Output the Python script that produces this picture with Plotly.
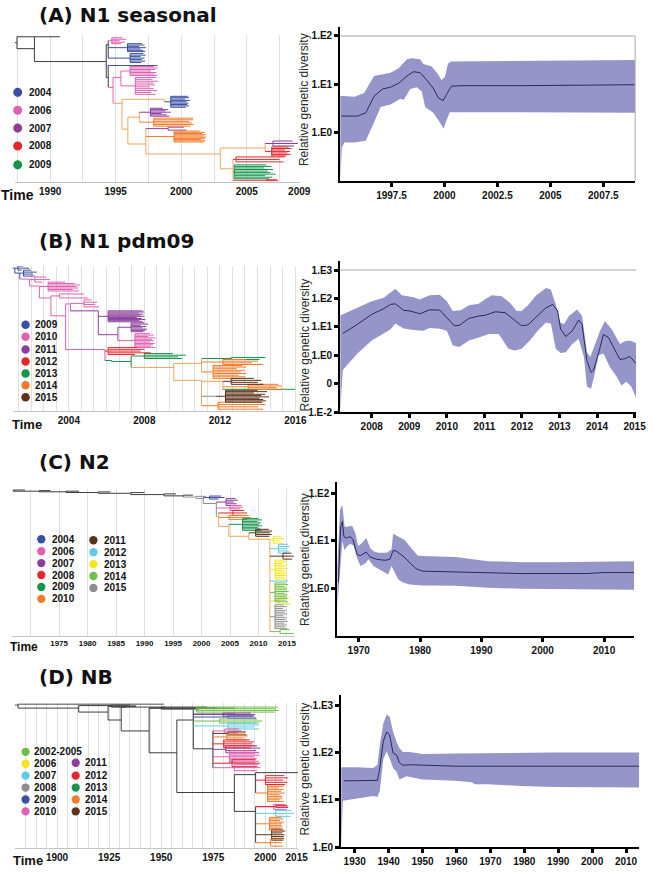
import numpy as np
import plotly.graph_objects as go

W, H = 654, 873
def fx(p): return p / W
def fy(p): return 1 - p / H

COL = dict(blue="#3a4fa3", pink="#e160b0", purple="#8a3f9d", red="#e5262d", green="#17944b",
           orange="#f27b2a", brown="#5b321a", cyan="#5fcde2", yellow="#f3e61b", lgreen="#71be45",
           gray="#8e8e8e", dark="#3d3d3d", lorange="#f2a55e")
FILL = "#9595ca"
MED = "#2a2a5c"

# ---------------- skyline data (log10 relative genetic diversity) ----------------
a_up_t = [1995.08, 1995.75, 1996.21, 1996.68, 1997.46, 1997.84, 1998.23, 1998.46, 1998.85, 1999.01, 1999.40, 1999.71, 1999.86, 2000.02, 2000.17, 2000.33, 2009.0]
a_up = [0.76, 0.74, 0.82, 1.17, 1.24, 1.33, 1.52, 1.54, 1.52, 1.42, 1.37, 1.20, 1.09, 1.15, 1.43, 1.47, 1.50]
a_lo_t = [1995.08, 1995.16, 1995.28, 1995.75, 1996.29, 1996.68, 1996.99, 1997.46, 1997.92, 1998.08, 1998.39, 1998.70, 1998.93, 1999.09, 1999.47, 1999.78, 1999.97, 2000.06, 2000.25, 2003.67, 2009.0]
a_lo = [-0.99, -0.31, -0.21, -0.21, -0.17, 0.21, 0.53, 0.58, 0.70, 0.68, 0.90, 0.94, 0.85, 0.53, 0.41, 0.21, 0.08, 0.21, 0.42, 0.42, 0.41]
a_md_t = [1995.13, 1995.90, 1996.29, 1996.68, 1997.07, 1997.46, 1997.84, 1998.23, 1998.54, 1998.85, 1999.16, 1999.47, 1999.71, 1999.94, 2000.10, 2000.33, 2000.87, 2003.67, 2009.0]
a_md = [0.34, 0.34, 0.41, 0.75, 0.90, 0.94, 1.02, 1.17, 1.26, 1.24, 1.09, 0.92, 0.72, 0.66, 0.79, 0.96, 0.97, 0.97, 0.99]

b_up_t = [2007.16, 2007.23, 2007.62, 2008.0, 2008.32, 2008.50, 2008.63, 2008.80, 2009.11, 2009.28, 2009.54, 2009.81, 2010.0, 2010.16, 2010.37, 2010.59, 2010.85, 2011.03, 2011.20, 2011.46, 2011.68, 2011.86, 2011.99, 2012.16, 2012.38, 2012.64, 2012.77, 2012.90, 2013.02, 2013.12, 2013.25, 2013.47, 2013.60, 2013.73, 2013.82, 2013.95, 2014.08, 2014.21, 2014.39, 2014.61, 2014.74, 2014.87, 2015.04]
b_up = [1.40, 1.44, 1.67, 1.90, 2.02, 2.21, 2.34, 2.11, 2.04, 1.96, 2.11, 2.13, 1.90, 1.56, 1.58, 1.76, 1.81, 1.98, 2.11, 2.08, 1.85, 1.56, 1.56, 1.76, 2.11, 2.37, 2.31, 1.79, 1.15, 1.09, 1.38, 1.61, 1.38, 0.11, -0.06, 0.40, 0.86, 1.21, 0.92, 0.40, 0.49, 0.52, 0.43]
b_lo_t = [2007.16, 2007.23, 2007.62, 2008.0, 2008.32, 2008.50, 2008.63, 2008.85, 2009.11, 2009.37, 2009.54, 2009.81, 2010.0, 2010.16, 2010.33, 2010.59, 2010.85, 2011.12, 2011.38, 2011.64, 2011.81, 2011.99, 2012.21, 2012.42, 2012.64, 2012.77, 2012.90, 2013.03, 2013.17, 2013.34, 2013.51, 2013.65, 2013.73, 2013.84, 2013.91, 2014.04, 2014.17, 2014.34, 2014.52, 2014.65, 2014.78, 2014.91, 2015.04]
b_lo = [-2.0, -0.52, 0.06, 0.52, 0.77, 0.92, 1.12, 0.94, 0.89, 0.86, 0.96, 0.93, 0.86, 0.34, 0.29, 0.52, 0.63, 0.75, 0.75, 0.23, 0.17, 0.23, 0.52, 0.86, 1.15, 1.12, 0.23, 0.08, 0.11, 0.40, 0.58, -0.06, -1.10, -1.18, -0.81, 0.00, 0.06, -0.41, -0.75, -1.06, -0.93, -1.10, -1.50]
b_md_t = [2007.23, 2007.62, 2008.0, 2008.32, 2008.50, 2008.63, 2008.85, 2009.02, 2009.28, 2009.54, 2009.81, 2010.0, 2010.20, 2010.33, 2010.59, 2010.85, 2011.03, 2011.29, 2011.55, 2011.77, 2011.99, 2012.16, 2012.42, 2012.64, 2012.82, 2012.95, 2013.03, 2013.17, 2013.34, 2013.51, 2013.60, 2013.73, 2013.84, 2013.91, 2014.04, 2014.17, 2014.30, 2014.43, 2014.61, 2014.74, 2014.87, 2015.04]
b_md = [0.77, 1.09, 1.44, 1.64, 1.79, 1.81, 1.58, 1.56, 1.46, 1.60, 1.59, 1.33, 1.04, 1.05, 1.30, 1.38, 1.41, 1.53, 1.50, 1.27, 1.04, 1.07, 1.38, 1.67, 1.79, 1.56, 0.92, 0.66, 0.86, 1.24, 1.09, -0.18, -0.60, -0.52, 0.08, 0.73, 0.63, 0.29, -0.15, -0.12, -0.04, -0.29]

c_up_t = [1966.52, 1966.95, 1967.33, 1967.70, 1968.13, 1968.93, 1969.47, 1969.89, 1970.53, 1971.23, 1971.87, 1972.41, 1973.21, 1974.55, 1975.35, 1975.61, 1976.42, 1977.49, 1978.56, 1979.63, 1980.43, 1985.78, 1991.12, 1996.47, 2001.82, 2007.17, 2009.84, 2014.92]
c_up = [0.47, 1.65, 1.76, 1.30, 1.30, 1.32, 1.16, 0.89, 0.95, 1.06, 0.85, 0.78, 0.75, 0.75, 0.82, 1.15, 1.09, 1.02, 0.85, 0.69, 0.68, 0.66, 0.57, 0.55, 0.55, 0.56, 0.57, 0.57]
c_lo_t = [1966.52, 1966.95, 1967.33, 1967.70, 1968.13, 1968.66, 1969.20, 1969.73, 1970.27, 1971.07, 1971.60, 1972.41, 1973.21, 1974.28, 1974.81, 1975.35, 1975.88, 1976.42, 1977.22, 1978.29, 1980.43, 1985.78, 1991.12, 1996.47, 2001.82, 2007.17, 2014.92]
c_lo = [-0.40, 0.33, 0.99, 0.80, 0.89, 0.94, 0.89, 0.64, 0.47, 0.52, 0.61, 0.47, 0.41, 0.33, 0.29, 0.47, 0.33, 0.19, 0.12, 0.08, 0.06, 0.05, 0.01, -0.01, -0.02, -0.02, -0.03]
c_md_t = [1966.68, 1967.06, 1967.33, 1967.59, 1968.02, 1968.66, 1969.09, 1969.73, 1970.27, 1971.23, 1971.87, 1972.94, 1974.28, 1975.08, 1975.61, 1976.15, 1977.22, 1978.29, 1979.36, 1980.43, 1985.78, 1991.12, 1996.47, 2007.17, 2009.84, 2014.92]
c_md = [0.12, 1.30, 1.41, 1.09, 1.06, 1.09, 1.02, 0.71, 0.69, 0.76, 0.66, 0.61, 0.59, 0.61, 0.80, 0.78, 0.68, 0.54, 0.41, 0.36, 0.34, 0.33, 0.31, 0.31, 0.33, 0.33]

d_up_t = [1926.0, 1926.8, 1930.7, 1935.5, 1936.7, 1937.4, 1938.4, 1939.4, 1940.3, 1941.3, 1942.3, 1943.2, 1944.2, 1946.2, 1950.0, 1959.7, 1969.4, 1988.7, 2013.85]
d_up = [1.69, 1.69, 1.69, 1.67, 1.74, 2.16, 2.60, 2.80, 2.76, 2.44, 2.23, 2.09, 2.01, 2.01, 1.97, 1.98, 1.99, 2.00, 2.00]
d_lo_t = [1926.0, 1926.5, 1930.7, 1935.5, 1936.7, 1937.4, 1938.4, 1939.4, 1940.3, 1941.3, 1942.3, 1943.2, 1944.2, 1945.2, 1947.1, 1950.0, 1959.7, 1964.5, 1965.5, 1969.4, 1979.0, 1988.7, 2013.85]
d_lo = [0.0, 0.98, 1.03, 1.08, 1.06, 1.19, 1.85, 2.02, 1.88, 1.67, 1.60, 1.43, 1.46, 1.50, 1.48, 1.43, 1.40, 1.37, 1.33, 1.33, 1.29, 1.27, 1.26]
d_md_t = [1926.8, 1935.5, 1936.7, 1937.4, 1938.4, 1939.4, 1940.3, 1941.3, 1942.3, 1943.2, 1944.2, 1946.2, 1950.0, 1959.7, 2013.85]
d_md = [1.40, 1.41, 1.41, 1.67, 2.23, 2.43, 2.37, 1.99, 1.95, 1.78, 1.73, 1.74, 1.73, 1.71, 1.71]

# ---------------- tree data: (name, parent, time, row, colour) ----------------
# combs: (name, parent, base time, first row, last row, tip times, colour)
treeA_nodes = [
    ("r", None, 1987.30, 43, "dark"), ("n1", "r", 1987.47, 43, "dark"),
    ("o1", "n1", 1988.80, 37, "dark"), ("n2", "n1", 1988.80, 49, "dark"),
    ("o2", "n2", 1990.75, 37, "dark"), ("n3", "n2", 1994.28, 62, "dark"),
    ("n4", "n3", 1994.43, 45, "dark"), ("n5", "n3", 1994.43, 78, "dark"),
    ("bt", "n5", 1998.18, 66, "blue"), ("n6", "n5", 1994.80, 88, "pink"),
    ("pk", "n6", 1995.40, 78, "pink"), ("q1", "n6", 1995.48, 104, "lorange"),
    ("q2", "q1", 1998.70, 100, "lorange"), ("q3", "q1", 1995.93, 130, "lorange"),
    ("q4", "q3", 1996.80, 118, "lorange"), ("q5", "q3", 1997.30, 145, "lorange"),
    ("q6", "q5", 2002.98, 155, "lorange"), ("q7", "q6", 2006.40, 149, "lorange"),
    ("q8", "q6", 2003.95, 170, "lorange"),
]
treeA_combs = [
    ("ca1", "n4", 1994.70, 38, 44, [1995.5, 1995.8, 1995.3, 1995.7, 1995.4], "pink"),
    ("cb1", "n4", 1995.90, 44, 52, [1997.0, 1997.2, 1996.8, 1997.3, 1996.9, 1997.1, 1997.25], "blue"),
    ("cb2", "n4", 1996.10, 54, 63, [1997.1, 1997.3, 1996.9, 1997.2, 1997.0, 1997.25, 1996.95], "blue"),
    ("cp1", "pk", 1996.10, 67, 76, [1997.9, 1998.2, 1998.0, 1997.7, 1998.1, 1997.95, 1998.15], "pink"),
    ("cp2", "pk", 1996.50, 78, 95, [1998.1, 1997.8, 1998.2, 1997.9, 1998.0, 1997.6, 1997.9, 1998.15, 1997.7, 1998.05], "pink"),
    ("cb3", "q2", 1999.20, 97, 108, [2000.5, 2000.6, 2000.3, 2000.65, 2000.4, 2000.55, 2000.45, 2000.6, 2000.35], "blue"),
    ("co1", "q4", 1997.65, 109, 117, [1998.6, 1999.0, 1998.8, 1999.2, 1998.5, 1998.9, 1999.1], "purple"),
    ("co2", "q4", 1997.90, 119, 127, [2000.9, 2000.9, 2000.6, 2000.8, 2000.95, 2000.7], "orange"),
    ("co4", "q5", 1999.00, 128, 131, [2000.2, 2000.4], "purple"),
    ("co3", "q5", 1999.45, 132, 143, [2001.4, 2001.8, 2001.6, 2001.9, 2001.7, 2001.9, 2001.8, 2001.5, 2001.85, 2001.75], "orange"),
    ("cr1", "q7", 2007.00, 142, 147, [2008.5, 2008.9, 2008.6], "purple"),
    ("cr2", "q7", 2006.90, 148, 157, [2008.2, 2008.4, 2007.9, 2008.3, 2008.1, 2008.35, 2008.0], "red"),
    ("cr3", "q8", 2004.18, 158, 163, [2007.9, 2007.5, 2007.8], "red"),
    ("cg1", "q8", 2004.05, 166, 180, [2006.5, 2006.9, 2006.3, 2007.0, 2006.6, 2006.8, 2007.2, 2006.4, 2006.95, 2006.7], "green"),
    ("cr4", "q8", 2006.50, 181, 182, [2007.3, 2007.4], "red"),
]

treeB_nodes = [
    ("r", None, 2001.0, 70, "dark"), ("b0", "r", 2001.14, 70, "blue"),
    ("b1", "b0", 2001.40, 75, "blue"), ("p1", "b1", 2001.92, 81, "pink"),
    ("p2", "p1", 2002.44, 88, "pink"), ("p3", "p2", 2003.05, 100, "pink"),
    ("p4", "p3", 2003.83, 118, "pink"), ("p5", "p4", 2004.09, 106, "pink"),
    ("u1", "p5", 2005.56, 113, "purple"), ("u3", "u1", 2006.60, 137, "purple"),
    ("r1", "p4", 2005.91, 152, "pink"), ("g1", "r1", 2006.26, 163, "green"),
    ("gn", "g1", 2007.30, 164, "green"), ("o1", "gn", 2009.56, 170, "lorange"),
    ("o2", "o1", 2011.03, 166, "lorange"), ("o3", "o1", 2011.03, 183, "lorange"),
    ("o4", "o3", 2012.16, 184, "lorange"), ("o5", "o3", 2011.80, 199, "gray"),
    ("gt", "o4", 2016.0, 192, "green"),
]
treeB_combs = [
    ("cb0", "b0", 2001.30, 68, 72, [2001.6, 2001.9, 2001.5], "blue"),
    ("cb1", "b1", 2001.60, 72, 78, [2002.0, 2002.3, 2002.1, 2002.2], "blue"),
    ("cp1", "p1", 2002.20, 79, 84, [2002.8, 2003.0, 2002.6], "pink"),
    ("cp2", "p2", 2002.90, 84, 93, [2003.8, 2004.3, 2004.6, 2004.4, 2004.5, 2004.2, 2004.55], "pink"),
    ("cp3", "p3", 2003.50, 96, 100, [2004.8, 2005.0], "pink"),
    ("cp5", "p5", 2004.80, 102, 109, [2005.2, 2005.5, 2005.4, 2005.6], "pink"),
    ("cu2", "u1", 2006.08, 113, 124, [2007.9, 2008.0, 2007.7, 2007.95, 2007.8, 2008.0, 2007.6, 2007.85, 2008.05, 2007.75, 2007.9], "purple"),
    ("cu3a", "u3", 2007.30, 125, 134, [2008.0, 2008.2, 2007.8, 2008.1, 2007.9, 2008.15, 2008.05, 2007.95], "purple"),
    ("cu3b", "u3", 2007.50, 136, 150, [2008.3, 2008.5, 2008.2, 2008.6, 2008.4, 2008.5, 2008.3, 2008.55, 2008.45, 2008.35, 2008.6], "pink"),
    ("cr1", "r1", 2006.08, 150, 157, [2007.6, 2008.0, 2007.8, 2008.34, 2007.5], "red"),
    ("cg2", "gn", 2008.00, 156, 161, [2009.5, 2010.2, 2009.8, 2010.0], "green"),
    ("cg3", "o2", 2012.60, 160, 162, [2014.4, 2014.1], "green"),
    ("co2a", "o2", 2012.16, 162, 167, [2013.4, 2014.0, 2013.7, 2014.3], "orange"),
    ("co2b", "o2", 2011.64, 168, 181, [2013.2, 2013.4, 2012.9, 2013.3, 2013.1, 2013.4, 2013.0, 2013.35, 2013.15], "orange"),
    ("cbr1", "o4", 2012.60, 181, 187, [2013.8, 2014.2, 2014.0, 2014.3], "brown"),
    ("co4", "o4", 2013.50, 187, 192, [2015.1, 2015.3, 2015.0, 2015.4], "orange"),
    ("cbr2", "o5", 2012.30, 193, 205, [2014.0, 2014.5, 2013.8, 2014.4, 2014.2, 2014.6, 2014.1, 2014.3, 2014.45, 2014.25], "brown"),
    ("co6", "o3", 2011.90, 205, 212, [2014.2, 2014.4, 2014.0, 2014.3], "orange"),
]

treeC_nodes = [
    ("k0", None, 1966.95, 64.0, "dark"), ("k1", "k0", 1971.5, 64.6, "dark"),
    ("k2", "k1", 1976.2, 65.2, "dark"), ("k3", "k2", 1981.9, 65.9, "dark"),
    ("k4", "k3", 1987.6, 66.7, "dark"), ("k5", "k4", 1993.4, 68.0, "dark"),
    ("k6", "k5", 1996.8, 69.3, "dark"), ("k7", "k6", 1999.1, 70.5, "gray"),
    ("s0", "k0", 1969.0, 63.4, "dark"), ("s1", "k1", 1973.5, 64.0, "dark"),
    ("s2", "k2", 1978.5, 64.6, "dark"), ("s3", "k3", 1984.0, 65.3, "dark"),
    ("s4", "k4", 1990.0, 66.0, "dark"), ("s5", "k5", 1995.5, 67.3, "dark"),
    ("s6", "k6", 1998.5, 68.6, "dark"), ("s7", "k7", 2000.8, 69.8, "gray"),
    ("c1", "k7", 2000.3, 72.0, "gray"), ("c2", "c1", 2002.6, 77, "gray"),
    ("c3", "c2", 2003.0, 90, "lorange"), ("c4", "c3", 2004.8, 100, "lorange"),
    ("c5", "c4", 2008.3, 110, "lorange"), ("c6", "c5", 2012.0, 113, "lorange"),
    ("cyt", "c6", 2015.2, 155, "cyan"),
]
treeC_combs = [
    ("cb", "c1", 2001.4, 69.5, 72.5, [2003.4, 2004.0, 2003.0], "blue"),
    ("cpu", "c2", 2004.3, 72, 79, [2006.0, 2006.4, 2005.7, 2006.2, 2005.8], "purple"),
    ("cpk", "c2", 2005.0, 79, 84, [2007.0, 2007.3, 2006.8, 2007.2], "pink"),
    ("cr", "c3", 2005.5, 84, 89, [2007.5, 2008.0, 2007.2], "red"),
    ("cor", "c3", 2004.8, 89, 93, [2008.3, 2008.6, 2008.0], "orange"),
    ("cg", "c4", 2007.2, 92, 104, [2010.0, 2010.6, 2009.8, 2010.4, 2010.1, 2010.6, 2009.9, 2010.3, 2010.5], "green"),
    ("cbr", "c5", 2009.5, 103, 110, [2011.8, 2012.4, 2012.0, 2012.3, 2011.9], "brown"),
    ("cy", "c6", 2012.6, 110, 117, [2014.0, 2014.5, 2013.8, 2014.3], "yellow"),
    ("ccy", "c6", 2013.5, 118, 127, [2015.2, 2015.5, 2015.0, 2015.4, 2015.1], "cyan"),
    ("cbr2", "c6", 2014.3, 127, 133, [2015.8, 2016.2, 2015.9], "brown"),
    ("cyel", "c6", 2012.9, 134, 153, [2014.5, 2015.0, 2014.3, 2014.9, 2014.6, 2015.1, 2014.4, 2014.8, 2014.7, 2014.95, 2014.55, 2014.85], "yellow"),
    ("cgr", "c6", 2012.9, 157, 176, [2014.8, 2015.2, 2014.6, 2015.0, 2014.9, 2015.3, 2014.7, 2015.1, 2014.85, 2015.05, 2014.75, 2015.15], "lgreen"),
    ("cyel2", "c6", 2013.5, 172, 178, [2015.4, 2015.7], "yellow"),
    ("cgy", "c6", 2012.9, 179, 203, [2014.5, 2014.9, 2014.3, 2014.8, 2014.6, 2015.0, 2014.4, 2014.9, 2014.7, 2015.1, 2014.55, 2014.85, 2014.65, 2014.95], "gray"),
    ("cgr2", "c6", 2013.8, 204, 208, [2015.5, 2016.2], "lgreen"),
]

treeD_nodes = [
    ("d0", None, 1879.7, 60, "dark"), ("d1", "d0", 1881.3, 60, "dark"),
    ("t1", "d1", 1951.3, 59, "dark"), ("d2", "d1", 1910.4, 63, "dark"),
    ("t2", "d2", 1926.0, 60.5, "dark"), ("d3", "d2", 1924.5, 67, "dark"),
    ("t3", "d3", 1938.0, 61, "dark"), ("d4", "d3", 1930.8, 75, "dark"),
    ("t4", "d4", 1952.0, 62, "dark"), ("d5", "d4", 1944.2, 86, "dark"),
    ("t5", "d5", 1985.0, 63, "dark"), ("d6", "d5", 1957.5, 108, "dark"),
    ("d7", "d6", 1965.4, 75, "dark"), ("d8", "d6", 1985.1, 148, "dark"),
    ("t7", "d7", 1985.5, 69, "dark"), ("d9", "d7", 1974.8, 104, "dark"),
    ("d10", "d8", 1995.3, 130, "dark"), ("t10", "d10", 2015.7, 128, "dark"),
    ("d11", "d8", 1995.3, 167, "dark"),
]
treeD_combs = [
    ("cd1", "d3", 1926.0, 60, 62, [1935.0, 1938.0, 1933.0], "dark"),
    ("cd2", "d5", 1950.0, 62, 64, [1972.0, 1976.5, 1968.0], "dark"),
    ("lg", "d7", 1967.0, 62, 67, [2006.0, 2005.0, 2006.3, 2004.5], "lgreen"),
    ("pu", "d7", 1979.6, 68, 71, [1993.0, 1995.0, 1994.0], "purple"),
    ("bl", "d7", 1982.0, 71, 73, [1994.5, 1995.5], "blue"),
    ("gr", "d7", 1978.0, 74, 78, [1996.0, 1998.4, 1997.0], "lgreen"),
    ("cy", "d7", 1982.0, 78, 84, [1995.3, 1996.8, 1994.5, 1997.0], "cyan"),
    ("pk", "d9", 1980.5, 84, 88, [1987.4, 1988.5, 1986.9], "pink"),
    ("br", "d9", 1982.0, 87, 90, [1990.6, 1991.0], "brown"),
    ("or", "d9", 1981.5, 89, 95, [1990.0, 1991.5, 1989.5, 1991.0], "orange"),
    ("rd", "d9", 1980.0, 95, 103, [1992.5, 1994.5, 1993.7, 1995.0, 1993.0], "red"),
    ("pr", "d9", 1981.0, 101, 108, [1996.0, 1997.5, 1995.5, 1997.0], "purple"),
    ("pk2", "d9", 1982.7, 106, 118, [1994.0, 1996.5, 1995.0, 1997.2, 1994.5, 1996.0, 1995.5, 1996.8, 1995.2], "pink"),
    ("rd2", "d9", 1984.0, 115, 122, [1995.0, 1997.5, 1996.0], "red"),
    ("pk3", "d9", 1985.0, 120, 126, [1996.5, 1997.5, 1996.0], "pink"),
    ("rd3", "d10", 2000.0, 131, 140, [2009.0, 2011.0, 2008.5, 2010.5, 2009.5], "red"),
    ("or2", "d10", 2001.0, 140, 157, [2007.0, 2009.0, 2006.5, 2008.7, 2007.5, 2009.3, 2006.8, 2008.0, 2008.4, 2007.2, 2008.9], "orange"),
    ("mg", "d11", 2004.0, 160, 165, [2009.5, 2011.0, 2010.0], "pink"),
    ("rd4", "d11", 2005.0, 161, 163, [2010.5, 2010.9], "red"),
    ("cy2", "d11", 2005.0, 166, 172, [2012.5, 2013.7, 2012.0], "cyan"),
    ("or3", "d11", 2002.0, 173, 186, [2007.5, 2008.5, 2007.0, 2009.0, 2008.0, 2007.8, 2008.3, 2007.3, 2008.7], "orange"),
    ("br2", "d11", 2003.0, 185, 196, [2008.5, 2009.5, 2008.2, 2009.2, 2008.8, 2009.0, 2008.6], "brown"),
    ("or4", "d11", 2002.5, 195, 202, [2008.6, 2007.9, 2008.4], "orange"),
]

# tick labels
a_tree_ticks = [1990, 1995, 2000, 2005, 2009]
b_tree_ticks = [2004, 2008, 2012, 2016]
c_tree_ticks = [1975, 1980, 1985, 1990, 1995, 2000, 2005, 2010, 2015]
d_tree_ticks = [1900, 1925, 1950, 1975, 2000, 2015]
a_sky_xticks = [1997.5, 2000, 2002.5, 2005, 2007.5]
b_sky_xticks = [2008, 2009, 2010, 2011, 2012, 2013, 2014, 2015]
c_sky_xticks = [1970, 1980, 1990, 2000, 2010]
d_sky_xticks = [1930, 1940, 1950, 1960, 1970, 1980, 1990, 2000, 2010]
a_sky_yticks = [0, 1, 2]; a_sky_ylab = ["1.E0", "1.E1", "1.E2"]
b_sky_yticks = [-2, -1, 0, 1, 2, 3]; b_sky_ylab = ["1.E-2", "0", "1.E0", "1.E1", "1.E2", "1.E3"]
c_sky_yticks = [0, 1, 2]; c_sky_ylab = ["1.E0", "1.E1", "1.E2"]
d_sky_yticks = [0, 1, 2, 3]; d_sky_ylab = ["1.E0", "1.E1", "1.E2", "1.E3"]

legA = [("2004", "blue"), ("2006", "pink"), ("2007", "purple"), ("2008", "red"), ("2009", "green")]
legB = [("2009", "blue"), ("2010", "pink"), ("2011", "purple"), ("2012", "red"), ("2013", "green"), ("2014", "orange"), ("2015", "brown")]
legC1 = [("2004", "blue"), ("2006", "pink"), ("2007", "purple"), ("2008", "red"), ("2009", "green"), ("2010", "orange")]
legC2 = [("2011", "brown"), ("2012", "cyan"), ("2013", "yellow"), ("2014", "lgreen"), ("2015", "gray")]
legD1 = [("2002-2005", "lgreen"), ("2006", "yellow"), ("2007", "cyan"), ("2008", "gray"), ("2009", "blue"), ("2010", "pink")]
legD2 = [("2011", "purple"), ("2012", "red"), ("2013", "green"), ("2014", "orange"), ("2015", "brown")]


def tree_traces(nodes, combs, xa, ya):
    info = {n[0]: n for n in nodes}
    comb_nodes = [(c[0], c[1], c[2], (c[3] + c[4]) / 2, c[6]) for c in combs]
    for c in comb_nodes:
        info[c[0]] = c
    kids = {}
    for n in list(nodes) + comb_nodes:
        if n[1] is not None:
            kids.setdefault(n[1], []).append(n[3])
    segs = {}
    def add(col, x0, y0, x1, y1):
        xs, ys = segs.setdefault(col, ([], []))
        xs += [x0, x1, None]; ys += [y0, y1, None]
    for name, par, t, row, col in nodes:
        if par is not None:
            add(col, info[par][2], row, t, row)
        if name in kids:
            rows = kids[name] + [row]
            add(col, t, min(rows), t, max(rows))
    for name, par, bt, r0, r1, tips, col in combs:
        mid = (r0 + r1) / 2
        add(col, info[par][2], mid, bt, mid)
        add(col, bt, r0, bt, r1)
        for r, tt in zip(np.linspace(r0, r1, len(tips)), tips):
            add(col, bt, r, tt, r)
    out = []
    for col, (xs, ys) in segs.items():
        out.append(go.Scatter(x=xs, y=ys, mode="lines", line=dict(color=COL[col], width=1),
                              hoverinfo="skip", showlegend=False, xaxis=xa, yaxis=ya))
    return out


def sky_traces(ut, u, lt, l, mt, m, xa, ya):
    return [
        go.Scatter(x=list(ut) + list(lt)[::-1], y=list(u) + list(l)[::-1], fill="toself",
                   fillcolor=FILL, line=dict(width=0, color=FILL), mode="lines",
                   hoverinfo="skip", showlegend=False, xaxis=xa, yaxis=ya),
        go.Scatter(x=mt, y=m, mode="lines", line=dict(color=MED, width=1),
                   hoverinfo="skip", showlegend=False, xaxis=xa, yaxis=ya),
    ]


fig = go.Figure()
for tr in tree_traces(treeA_nodes, treeA_combs, "x", "y"): fig.add_trace(tr)
for tr in sky_traces(a_up_t, a_up, a_lo_t, a_lo, a_md_t, a_md, "x2", "y2"): fig.add_trace(tr)
for tr in tree_traces(treeB_nodes, treeB_combs, "x3", "y3"): fig.add_trace(tr)
for tr in sky_traces(b_up_t, b_up, b_lo_t, b_lo, b_md_t, b_md, "x4", "y4"): fig.add_trace(tr)
for tr in tree_traces(treeC_nodes, treeC_combs, "x5", "y5"): fig.add_trace(tr)
for tr in sky_traces(c_up_t, c_up, c_lo_t, c_lo, c_md_t, c_md, "x6", "y6"): fig.add_trace(tr)
for tr in tree_traces(treeD_nodes, treeD_combs, "x7", "y7"): fig.add_trace(tr)
for tr in sky_traces(d_up_t, d_up, d_lo_t, d_lo, d_md_t, d_md, "x8", "y8"): fig.add_trace(tr)

FONT = "Liberation Sans, Arial, sans-serif"
layout = dict(width=W, height=H, margin=dict(l=0, r=0, t=0, b=0),
              paper_bgcolor="white", plot_bgcolor="white", showlegend=False)

# tree axes: (n, x0, x1, ytop, ybot, xrange, rowrange, grid step, grid start, ticks, tick font size)
tree_specs = [
    (1, 15, 305, 35, 183, [1987.3, 2009.05], [183, 35], 2.5, 1987.5, a_tree_ticks, 10),
    (3, 13, 305, 268, 414, [2001.03, 2016.24], [214, 68], 2 / 3, 2001.33, b_tree_ticks, 10),
    (5, 12, 300, 492, 640, [1966.7, 2016.4], [210, 62], 5, 1970, c_tree_ticks, 8),
    (7, 15, 303, 708, 854, [1879.7, 2015.6], [204, 58], 5, 1885, d_tree_ticks, 10),
]
for n, x0, x1, yt, yb, xr, rr, step, g0, ticks, fs in tree_specs:
    grid = [float(v) for v in np.arange(g0, xr[1], step)]
    grid = [g for g in grid if all(abs(g - t) > 1e-3 for t in ticks)]
    tv = list(ticks) + grid
    tt = [str(t) for t in ticks] + [""] * len(grid)
    layout[f"xaxis{n}"] = dict(domain=[fx(x0), fx(x1)], range=xr, anchor=f"y{n}",
                               tickmode="array", tickvals=tv, ticktext=tt,
                               showgrid=True, gridcolor="#e0e0e0", gridwidth=1,
                               showline=True, linecolor="#c4c4c4", linewidth=1, zeroline=False,
                               ticks="", tickfont=dict(family=FONT, size=fs, color="#111", weight="bold"))
    layout[f"yaxis{n}"] = dict(domain=[fy(yb), fy(yt)], range=rr, anchor=f"x{n}", visible=False)

sky_specs = [
    (2, 346, 646, 27, 182, [1995.08, 2009.0], [-1, 2.19], a_sky_xticks, a_sky_yticks, a_sky_ylab),
    (4, 346, 647, 263, 415, [2007.16, 2015.04], [-2, 3.31], b_sky_xticks, b_sky_yticks, b_sky_ylab),
    (6, 343, 645, 485, 640, [1966.5, 2014.9], [-1, 2.25], c_sky_xticks, c_sky_yticks, c_sky_ylab),
    (8, 347, 650, 700, 853, [1926.0, 2013.85], [0, 3.21], d_sky_xticks, d_sky_yticks, d_sky_ylab),
]
for n, x0, x1, yt, yb, xr, yr, xt, yv, yl in sky_specs:
    tf = dict(family=FONT, size=10, color="#111", weight="bold")
    layout[f"xaxis{n}"] = dict(domain=[fx(x0), fx(x1)], range=xr, anchor=f"y{n}",
                               tickmode="array", tickvals=xt, ticktext=[str(v) for v in xt],
                               ticks="outside", ticklen=4, tickwidth=3, tickcolor="black",
                               showline=True, linewidth=2, linecolor="black", showgrid=False,
                               zeroline=False, tickfont=tf)
    layout[f"yaxis{n}"] = dict(domain=[fy(yb), fy(yt)], range=yr, anchor=f"x{n}",
                               tickmode="array", tickvals=yv, ticktext=yl,
                               ticks="outside", ticklen=4, tickwidth=3, tickcolor="black",
                               showline=True, linewidth=2, linecolor="black", showgrid=False,
                               zeroline=False, tickfont=dict(family=FONT, size=10, color="#111", weight="bold"))
fig.update_layout(**layout)

shapes = [
    dict(type="line", xref="x2 domain", yref="y2", x0=0, x1=1, y0=2, y1=2, line=dict(color="#a8a8a8", width=1)),
    dict(type="line", xref="x2 domain", yref="y2", x0=1, x1=1, y0=-1, y1=2, line=dict(color="#a8a8a8", width=1)),
    dict(type="line", xref="x4 domain", yref="y4", x0=0, x1=1, y0=3, y1=3, line=dict(color="#a8a8a8", width=1)),
]
ann = []
def text(x, y, s, size, family=FONT, anchor="left", angle=0, color="#111"):
    ann.append(dict(x=fx(x), y=fy(y), xref="paper", yref="paper", text=s, showarrow=False,
                    xanchor=anchor, yanchor="middle", textangle=angle, borderpad=0,
                    font=dict(family=family, size=size, color=color)))

TITLE_FONT = "DejaVu Sans, sans-serif"
text(39, 15, "<b>(A) N1 seasonal</b>", 20, TITLE_FONT)
text(39, 243, "<b>(B) N1 pdm09</b>", 20, TITLE_FONT)
text(39, 465, "<b>(C) N2</b>", 20, TITLE_FONT)
text(39, 682, "<b>(D) NB</b>", 20, TITLE_FONT)
text(0, 196, "<b>Time</b>", 14)
text(11, 427, "<b>Time</b>", 13)
text(9, 651, "<b>Time</b>", 12)
text(12, 866, "<b>Time</b>", 13)
for yc in (100, 347, 563, 774):
    text(310, yc, "Relative genetic diversity", 12, anchor="center", angle=-90, color="#2a2a2a")

def legend(items, cx, ys, r, tx):
    for (lab, col), cy in zip(items, ys):
        shapes.append(dict(type="circle", xref="paper", yref="paper",
                           x0=fx(cx - r), x1=fx(cx + r), y0=fy(cy + r), y1=fy(cy - r),
                           fillcolor=COL[col], line=dict(width=0)))
        text(tx, cy, f"<b>{lab}</b>", 10)

legend(legA, 18, [93, 111, 129, 147, 166], 4.6, 28)
legend(legB, 26, [327, 339, 352, 364, 376, 388, 400], 4.3, 35)
legend(legC1, 42, [543, 555, 567, 579, 591, 603], 4.2, 52)
legend(legC2, 95, [544, 556, 568, 580, 592], 4.2, 105)
legend(legD1, 26, [757, 769, 781, 793, 805, 817], 4.2, 34)
legend(legD2, 77, [768, 781, 793, 805, 817], 4.2, 85)

fig.update_layout(shapes=shapes, annotations=ann)
fig.write_html("out.html", config={"displayModeBar": False},
               post_script="document.body.style.margin='0px';document.body.style.padding='0px';")
